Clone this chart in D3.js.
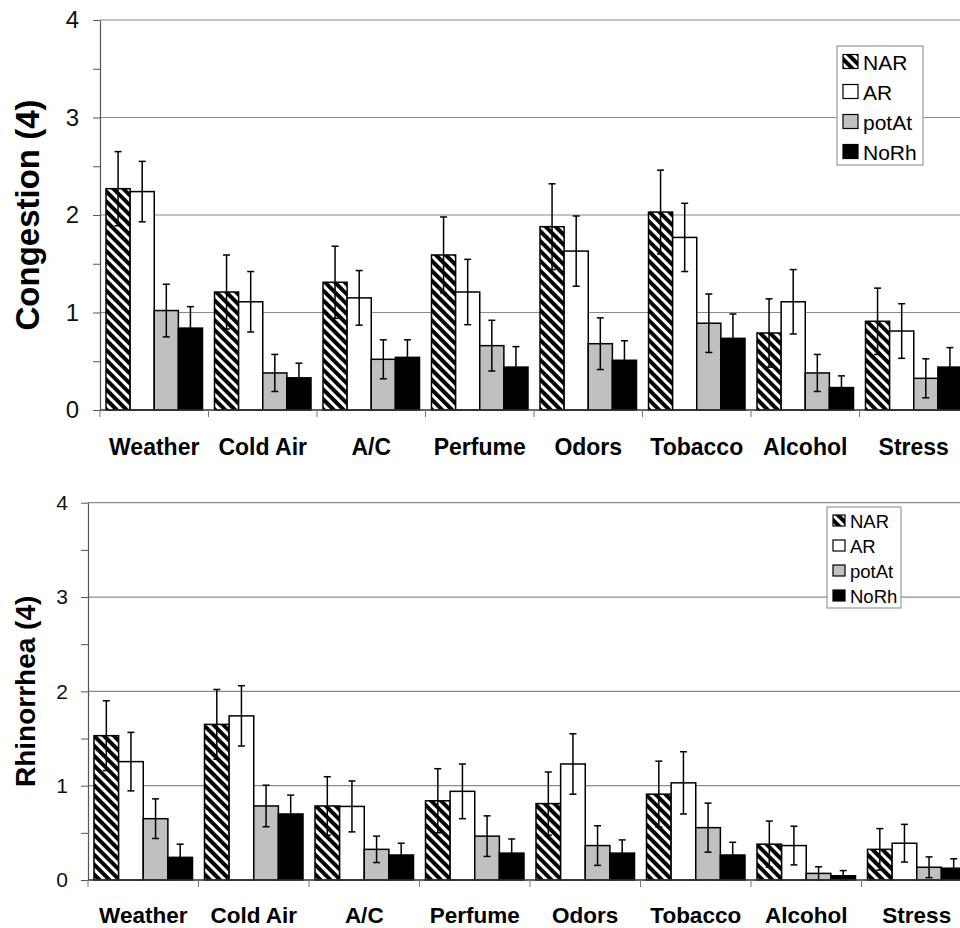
<!DOCTYPE html>
<html>
<head>
<meta charset="utf-8">
<script src="https://cdn.jsdelivr.net/npm/d3@7"></script>
<style>
  body { margin: 0; background: #fff; }
  text { font-family: "Liberation Sans", Arial, sans-serif; }
</style>
</head>
<body>
<svg width="960" height="928"></svg>
<script>
// categories and series
var categories = ["Weather", "Cold Air", "A/C", "Perfume", "Odors", "Tobacco", "Alcohol", "Stress"];
var seriesNames = ["NAR", "AR", "potAt", "NoRh"];
var yTicks = [0, 1, 2, 3, 4];

// Congestion (4): means and error bars
var congNAR    = [2.27, 1.21, 1.31, 1.59, 1.88, 2.03, 0.79, 0.91];
var congNARerr = [0.38, 0.38, 0.37, 0.39, 0.44, 0.43, 0.35, 0.34];
var congAR     = [2.24, 1.11, 1.15, 1.21, 1.63, 1.77, 1.11, 0.81];
var congARerr  = [0.31, 0.31, 0.28, 0.335, 0.36, 0.35, 0.33, 0.28];
var congPot    = [1.02, 0.38, 0.52, 0.66, 0.68, 0.89, 0.38, 0.325];
var congPoterr = [0.27, 0.19, 0.20, 0.26, 0.265, 0.30, 0.19, 0.20];
var congNo     = [0.84, 0.33, 0.54, 0.44, 0.51, 0.735, 0.23, 0.44];
var congNoerr  = [0.22, 0.15, 0.18, 0.21, 0.20, 0.25, 0.12, 0.20];

// Rhinorrhea (4): means and error bars
var rhinNAR    = [1.53, 1.65, 0.785, 0.84, 0.81, 0.91, 0.38, 0.325];
var rhinNARerr = [0.37, 0.37, 0.31, 0.34, 0.335, 0.35, 0.245, 0.22];
var rhinAR     = [1.255, 1.74, 0.78, 0.94, 1.23, 1.03, 0.365, 0.39];
var rhinARerr  = [0.31, 0.32, 0.27, 0.29, 0.32, 0.33, 0.205, 0.20];
var rhinPot    = [0.65, 0.785, 0.325, 0.465, 0.365, 0.555, 0.07, 0.135];
var rhinPoterr = [0.21, 0.22, 0.14, 0.215, 0.21, 0.26, 0.07, 0.11];
var rhinNo     = [0.24, 0.70, 0.265, 0.285, 0.285, 0.265, 0.045, 0.125];
var rhinNoerr  = [0.14, 0.20, 0.125, 0.15, 0.14, 0.135, 0.055, 0.10];

var fills = {NAR: "url(#hatch)", AR: "#ffffff", potAt: "#c0c0c0", NoRh: "#000000"};

var svg = d3.select("svg");

// diagonal hatch for NAR
var pat = svg.append("defs").append("pattern")
    .attr("id", "hatch")
    .attr("patternUnits", "userSpaceOnUse")
    .attr("width", 7).attr("height", 7)
    .attr("patternTransform", "rotate(45)");
pat.append("rect").attr("width", 7).attr("height", 7).attr("fill", "#000");
pat.append("rect").attr("y", 0).attr("width", 7).attr("height", 3).attr("fill", "#fff");

function panel(cfg) {
    var rows = seriesNames.map(function(s, i) {
        return {name: s, vals: cfg.vals[i], errs: cfg.errs[i]};
    });

    var x0 = d3.scaleBand().domain(categories).range([cfg.left, cfg.right]).padding(0);
    var x1 = d3.scaleBand().domain(seriesNames).range([6, x0.bandwidth() - 6]).padding(0);
    var y = d3.scaleLinear().domain([0, 4]).range([cfg.bottom, cfg.top]);

    var g = svg.append("g");

    // gridlines
    g.selectAll(".grid").data(yTicks.slice(1)).enter().append("line")
        .attr("x1", cfg.left).attr("x2", 960)
        .attr("y1", function(d) { return y(d); })
        .attr("y2", function(d) { return y(d); })
        .attr("stroke", "#8a8a8a").attr("stroke-width", 1.2);

    // bars
    var groups = g.selectAll(".grp").data(categories).enter().append("g")
        .attr("transform", function(d) { return "translate(" + x0(d) + ",0)"; });

    rows.forEach(function(r) {
        groups.append("rect")
            .attr("x", x1(r.name))
            .attr("width", x1.bandwidth())
            .attr("y", function(d, i) { return y(r.vals[i]); })
            .attr("height", function(d, i) { return cfg.bottom - y(r.vals[i]); })
            .attr("fill", fills[r.name])
            .attr("stroke", "#000").attr("stroke-width", 1.5);
    });

    // error bars
    rows.forEach(function(r) {
        var cx = x1(r.name) + x1.bandwidth() / 2;
        var eb = groups.append("g").attr("stroke", "#000").attr("stroke-width", 1.5);
        eb.append("line")
            .attr("x1", cx).attr("x2", cx)
            .attr("y1", function(d, i) { return y(r.vals[i] + r.errs[i]); })
            .attr("y2", function(d, i) { return y(Math.max(0, r.vals[i] - r.errs[i])); });
        [1, -1].forEach(function(sgn) {
            eb.append("line")
                .attr("x1", cx - 3.5).attr("x2", cx + 3.5)
                .attr("y1", function(d, i) { return y(Math.max(0, r.vals[i] + sgn * r.errs[i])); })
                .attr("y2", function(d, i) { return y(Math.max(0, r.vals[i] + sgn * r.errs[i])); });
        });
    });

    // y axis
    var ya = g.append("g").attr("transform", "translate(" + cfg.left + ",0)")
        .call(d3.axisLeft(y).tickValues(d3.range(0, 4.01, 0.5)).tickSize(7).tickSizeOuter(0)
            .tickPadding(cfg.tickPad)
            .tickFormat(function(d) { return d % 1 === 0 ? d : ""; }));
    ya.select(".domain").attr("stroke", "#555").attr("stroke-width", 1.2);
    ya.selectAll(".tick line").attr("stroke", "#555");
    ya.selectAll("text").attr("font-size", cfg.tickFont).attr("fill", "#111")
        .style("font-family", "'Liberation Sans', Arial, sans-serif");

    // x axis
    g.append("line").attr("x1", cfg.left).attr("x2", 960)
        .attr("y1", cfg.bottom).attr("y2", cfg.bottom)
        .attr("stroke", "#333").attr("stroke-width", 1.5);
    g.selectAll(".xt").data(categories.concat(["end"])).enter().append("line")
        .attr("x1", function(d, i) { return cfg.left + i * x0.step(); })
        .attr("x2", function(d, i) { return cfg.left + i * x0.step(); })
        .attr("y1", cfg.bottom).attr("y2", cfg.bottom + 7)
        .attr("stroke", "#777");
    g.selectAll(".xl").data(categories).enter().append("text")
        .attr("x", function(d) { return x0(d) + x0.bandwidth() / 2; })
        .attr("y", cfg.labelY)
        .attr("text-anchor", "middle")
        .attr("font-weight", "bold")
        .attr("font-size", cfg.labelFont)
        .text(function(d) { return d; });

    // y title
    g.append("text")
        .attr("transform", "translate(" + cfg.titleX + "," + ((cfg.top + cfg.bottom) / 2) + ") rotate(-90)")
        .attr("text-anchor", "middle")
        .attr("font-weight", "bold")
        .attr("font-size", cfg.titleFont)
        .text(cfg.title);

    // legend
    var L = cfg.legend;
    var lg = g.append("g").attr("transform", "translate(" + L.x + "," + L.y + ")");
    lg.append("rect").attr("width", L.w).attr("height", L.h)
        .attr("fill", "#fff").attr("stroke", "#999").attr("stroke-width", 1.2);
    seriesNames.forEach(function(s, i) {
        var cy = L.first + i * L.step;
        lg.append("rect").attr("x", 6).attr("y", cy - L.sw / 2)
            .attr("width", L.sw).attr("height", L.sw - 1)
            .attr("fill", fills[s]).attr("stroke", "#000").attr("stroke-width", 1.2);
        lg.append("text").attr("x", 6 + L.sw + 5).attr("y", cy).attr("dy", "0.36em")
            .attr("font-size", L.font).text(s);
    });
}

panel({
    title: "Congestion (4)",
    vals: [congNAR, congAR, congPot, congNo],
    errs: [congNARerr, congARerr, congPoterr, congNoerr],
    left: 100, right: 968, top: 20, bottom: 410,
    tickFont: 24, tickPad: 14, labelFont: 23, labelY: 455,
    titleFont: 33, titleX: 39,
    legend: {x: 837, y: 46, w: 86, h: 119, first: 16, step: 30, sw: 15, font: 21}
});

panel({
    title: "Rhinorrhea (4)",
    vals: [rhinNAR, rhinAR, rhinPot, rhinNo],
    errs: [rhinNARerr, rhinARerr, rhinPoterr, rhinNoerr],
    left: 88, right: 972, top: 502.7, bottom: 880,
    tickFont: 21, tickPad: 13, labelFont: 22.5, labelY: 923,
    titleFont: 28, titleX: 35,
    legend: {x: 827, y: 507, w: 74, h: 101, first: 14, step: 25, sw: 12, font: 18.5}
});
</script>
</body>
</html>
